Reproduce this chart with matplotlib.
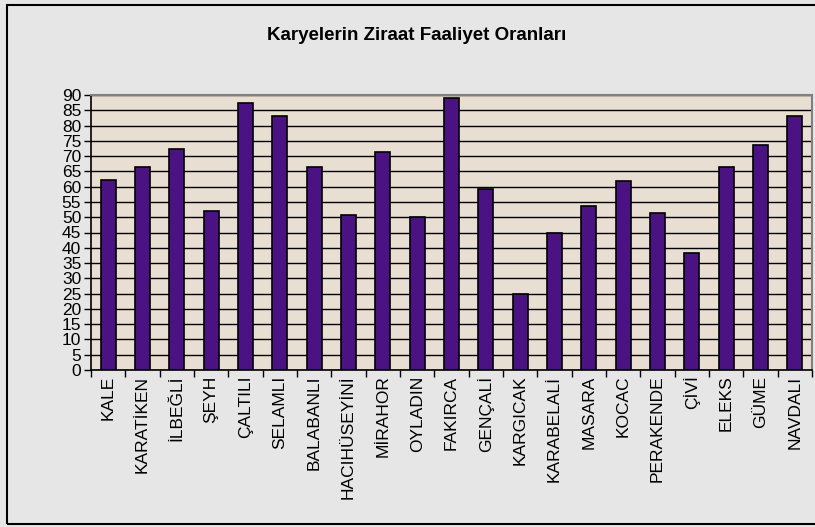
import numpy as np
import matplotlib.pyplot as plt
from matplotlib.patches import Rectangle

plt.rcParams['font.family'] = ['Liberation Sans', 'DejaVu Sans']

# village names and farming activity rates
villages = ['KALE', 'KARATİKEN', 'İLBEĞLİ', 'ŞEYH', 'ÇALTILI', 'SELAMLI',
            'BALABANLI', 'HACIHÜSEYİNİ', 'MİRAHOR', 'OYLADIN', 'FAKIRCA',
            'GENÇALİ', 'KARGICAK', 'KARABELALİ', 'MASARA', 'KOCAC',
            'PERAKENDE', 'ÇİVİ', 'ELEKS', 'GÜME', 'NAVDALI']
rates = [62.2, 66.3, 72.2, 52.0, 87.3, 83.1, 66.3, 50.7, 71.5, 50.2, 88.9,
         59.1, 24.9, 45.0, 53.7, 61.8, 51.5, 38.2, 66.3, 73.5, 83.1]
yticks = list(range(0, 95, 5))

fig = plt.figure(figsize=(8.15, 5.27), dpi=100, facecolor='#e6e6e6')

# outer chart border
fig.patches.append(Rectangle((7 / 815, 3 / 527), 1.2, 519 / 527,
                             transform=fig.transFigure, fill=False,
                             edgecolor='black', linewidth=1.5))

ax = fig.add_axes([91 / 815, 1 - 370 / 527, 721 / 815, 275 / 527])
ax.set_facecolor('#e8ded2')

x = np.arange(len(villages))
ax.bar(x, rates, width=0.43, color='#4b1283', edgecolor='black',
       linewidth=1.2, zorder=3)

ax.set_xlim(-0.5, len(villages) - 0.5)
ax.set_ylim(0, 90)
ax.set_yticks(yticks)
ax.set_yticklabels([str(v) for v in yticks], fontsize=12.5)
ax.yaxis.grid(True, color='black', linewidth=1)
ax.set_axisbelow(True)

# category labels, ticks drawn between categories
ax.set_xticks(x)
ax.set_xticklabels(villages, rotation=90, fontsize=12.5, va='top')
ax.tick_params(axis='x', length=0, pad=4)
ax.set_xticks(np.arange(-0.5, len(villages)), minor=True)
ax.tick_params(axis='x', which='minor', length=5, width=1, color='black')
ax.tick_params(axis='y', length=5, width=1, pad=2)

for side in ['top', 'right']:
    ax.spines[side].set_color('#808080')
    ax.spines[side].set_linewidth(1.5)
for side in ['left', 'bottom']:
    ax.spines[side].set_color('black')
    ax.spines[side].set_linewidth(1.2)

fig.text(417 / 815, 1 - 35 / 527, 'Karyelerin Ziraat Faaliyet Oranları',
         ha='center', va='center', fontsize=13.5, fontweight='bold')

fig.savefig('out.png', dpi=100, facecolor=fig.get_facecolor())
